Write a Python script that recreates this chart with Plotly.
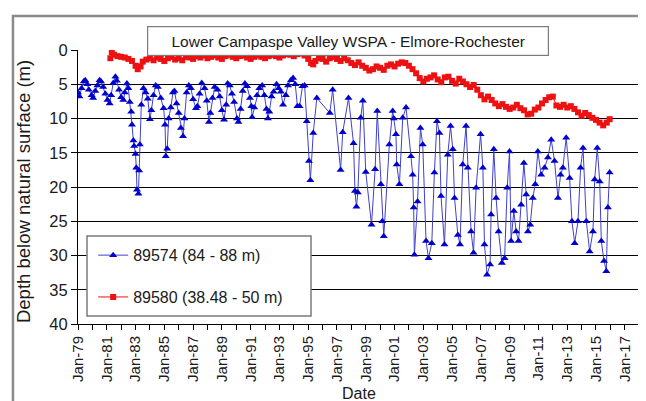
import plotly.graph_objects as go

chart_title = "Lower Campaspe Valley WSPA - Elmore-Rochester"
x_title = "Date"
y_title = "Depth below natural surface (m)"
blue_name = "89574 (84 - 88 m)"
red_name = "89580 (38.48 - 50 m)"

# bore 89574, decimal year / depth below surface (m)
blue_year = [
    1979.0, 1979.1, 1979.25, 1979.4, 1979.5, 1979.65, 1979.75, 1979.95,
    1980.05, 1980.2, 1980.35, 1980.5, 1980.6, 1980.75, 1980.9,
    1981.05, 1981.2, 1981.3, 1981.45, 1981.6, 1981.7, 1981.85,
    1982.0, 1982.15, 1982.25, 1982.4, 1982.5, 1982.6, 1982.7, 1982.75, 1982.85, 1982.9,
    1983.0, 1983.05, 1983.1, 1983.2, 1983.25, 1983.3, 1983.4, 1983.55, 1983.7, 1983.85,
    1984.0, 1984.1, 1984.25, 1984.4, 1984.55, 1984.75, 1984.95,
    1985.05, 1985.1, 1985.2, 1985.3, 1985.45, 1985.6, 1985.7, 1985.85,
    1986.0, 1986.15, 1986.3, 1986.4, 1986.55, 1986.7, 1986.85,
    1987.0, 1987.2, 1987.3, 1987.45, 1987.6, 1987.8, 1987.95,
    1988.1, 1988.2, 1988.35, 1988.5, 1988.7, 1988.85,
    1989.0, 1989.15, 1989.3, 1989.4, 1989.55, 1989.7, 1989.85,
    1990.05, 1990.15, 1990.3, 1990.45, 1990.6, 1990.75, 1990.95,
    1991.05, 1991.1, 1991.25, 1991.45, 1991.6, 1991.8, 1991.95,
    1992.1, 1992.2, 1992.3, 1992.45, 1992.6, 1992.8, 1992.95,
    1993.1, 1993.25, 1993.45, 1993.6, 1993.8, 1993.95,
    1994.1, 1994.25, 1994.4, 1994.6, 1994.75, 1994.9,
    1995.05, 1995.15, 1995.35, 1995.6, 1996.5, 1996.7,
    1997.25, 1997.4, 1997.8, 1998.15, 1998.25, 1998.35, 1998.45, 1998.65, 1998.8,
    1999.0, 1999.4, 1999.65, 1999.8, 2000.05, 2000.15, 2000.25, 2000.64, 2000.87, 2000.95,
    2001.1, 2001.15, 2001.34, 2001.57, 2001.8, 2002.14, 2002.26, 2002.33, 2002.38, 2002.6,
    2002.8, 2002.96, 2003.19, 2003.36, 2003.59, 2003.77, 2003.95, 2004.12, 2004.23, 2004.47,
    2004.7, 2004.89, 2005.05, 2005.17, 2005.4, 2005.55, 2005.74, 2005.97, 2006.09, 2006.32,
    2006.49, 2006.67, 2006.98, 2007.14, 2007.25, 2007.43, 2007.64, 2007.71, 2007.9, 2008.06,
    2008.23, 2008.46, 2008.65, 2008.83, 2008.99, 2009.1, 2009.29, 2009.45, 2009.62, 2009.8,
    2009.99, 2010.15, 2010.27, 2010.43, 2010.61, 2010.78, 2010.96, 2011.19, 2011.43, 2011.66,
    2011.89, 2012.12, 2012.36, 2012.54, 2012.7, 2012.93, 2013.17, 2013.33, 2013.52, 2013.75,
    2013.93, 2014.1, 2014.33, 2014.56, 2014.79, 2014.91, 2015.09, 2015.26, 2015.37, 2015.56,
    2015.72, 2015.83, 2015.95,
]
blue_depth = [
    6.2, 6.8, 5.6, 4.6, 4.4, 5.0, 5.8, 6.6,
    7.0, 6.0, 5.2, 4.4, 4.6, 5.4, 6.4,
    7.3, 7.8, 6.6, 4.8, 3.9, 4.5, 5.8,
    6.9, 7.3, 6.2, 4.9, 5.6, 7.6, 9.0, 10.9, 13.2, 14.0,
    15.2, 17.2, 20.4, 21.0, 17.6, 13.8, 8.0, 5.6, 6.2, 7.1,
    10.1, 8.8, 6.6, 5.2, 5.4, 7.0, 8.5,
    10.9, 15.5, 14.4, 10.0, 8.4, 6.2, 6.0, 7.8,
    9.2, 11.4, 12.6, 10.0, 6.2, 5.2, 5.6,
    7.2, 8.5, 8.2, 6.4, 4.8, 5.6, 7.4,
    10.5, 9.2, 7.0, 5.4, 5.8, 6.8,
    8.8, 10.2, 8.0, 4.9, 5.2, 6.4, 7.6,
    10.0, 10.5, 8.6, 6.0, 4.9, 5.3, 7.0,
    8.2, 9.8, 8.4, 6.6, 5.6, 5.2, 6.6,
    8.6, 10.0, 9.0, 6.8, 6.1, 5.0, 5.6,
    6.1, 8.0, 6.6, 5.2, 4.4, 4.1,
    5.0, 8.2, 8.2, 5.3, 5.2, 10.4,
    16.2, 19.0, 12.1, 7.0, 9.2, 5.8,
    17.5, 12.0, 7.0, 13.6, 20.6, 22.9, 20.8, 9.9, 7.4,
    17.8, 25.5, 17.4, 8.9, 19.6, 25.0, 27.2, 13.8, 8.9, 10.0,
    12.3, 16.7, 19.6, 9.9, 8.4, 15.5, 18.2, 23.0, 29.9, 22.1,
    11.4, 13.8, 27.9, 30.4, 28.2, 17.9, 10.4, 12.1, 21.3, 28.4,
    15.3, 11.1, 14.5, 21.6, 27.0, 28.4, 16.7, 11.1, 17.2, 26.5,
    29.6, 20.1, 12.3, 17.2, 28.4, 32.8, 31.3, 24.0, 14.5, 21.6,
    26.5, 31.1, 30.4, 20.1, 14.8, 27.9, 23.5, 26.5, 27.9, 22.6,
    16.5, 21.1, 26.5, 25.5, 21.6, 19.6, 14.8, 18.2, 17.2, 15.7,
    13.1, 16.2, 21.6, 18.2, 17.2, 12.8, 18.7, 25.0, 28.2, 25.0,
    17.2, 14.3, 25.0, 29.4, 26.5, 18.9, 14.3, 19.2, 27.9, 30.8,
    32.3, 23.0, 17.9,
]

# bore 89580
red_year = [
    1981.25, 1981.35, 1981.5, 1981.75, 1982.0, 1982.25, 1982.5, 1982.75,
    1983.0, 1983.15, 1983.35, 1983.5, 1983.75,
    1984.0, 1984.25, 1984.5, 1984.75, 1985.0, 1985.25, 1985.5, 1985.75,
    1986.0, 1986.25, 1986.5, 1986.75, 1987.0, 1987.25, 1987.5, 1987.75,
    1988.0, 1988.25, 1988.5, 1988.75, 1989.0, 1989.25, 1989.5, 1989.75,
    1990.0, 1990.25, 1990.5, 1990.75, 1991.0, 1991.25, 1991.5, 1991.75,
    1992.0, 1992.25, 1992.5, 1992.75, 1993.0, 1993.25, 1993.5, 1993.75,
    1994.0, 1994.25, 1994.5, 1994.75, 1995.0, 1995.2, 1995.35, 1995.5, 1995.75,
    1996.0, 1996.25, 1996.5, 1996.75, 1997.0, 1997.25, 1997.5, 1997.75,
    1998.0, 1998.25, 1998.5, 1998.75, 1999.0, 1999.25, 1999.5, 1999.75,
    2000.0, 2000.25, 2000.5, 2000.75, 2001.0, 2001.25, 2001.5, 2001.75,
    2002.0, 2002.25, 2002.5, 2002.75, 2003.0, 2003.25, 2003.5, 2003.75,
    2004.0, 2004.25, 2004.5, 2004.75, 2005.0, 2005.25, 2005.5, 2005.75,
    2006.0, 2006.25, 2006.5, 2006.75, 2007.0, 2007.25, 2007.5, 2007.75,
    2008.0, 2008.25, 2008.5, 2008.75, 2009.0, 2009.25, 2009.5, 2009.75,
    2010.0, 2010.25, 2010.5, 2010.75, 2011.0, 2011.25, 2011.5, 2011.75,
    2012.0, 2012.25, 2012.5, 2012.75, 2013.0, 2013.25, 2013.5, 2013.75,
    2014.0, 2014.25, 2014.5, 2014.75, 2015.0, 2015.25, 2015.5, 2015.75, 2015.95,
]
red_depth = [
    1.2, 0.3, 0.7, 0.9, 1.0, 1.1, 1.3, 1.6,
    2.3, 2.8, 2.4, 1.7, 1.4,
    1.2, 1.5, 1.1, 1.3, 1.6, 1.2, 1.0, 1.4,
    1.2, 1.5, 1.0, 1.1, 1.3, 0.9, 1.1, 0.8,
    1.2, 1.0, 0.8, 1.1, 1.3, 0.9, 0.7, 1.0,
    1.2, 0.9, 0.8, 1.1, 1.3, 1.0, 0.8, 1.0,
    1.2, 0.9, 0.7, 0.9, 1.1, 0.8, 0.6, 0.7,
    0.9, 0.6, 0.5, 0.8, 1.3, 1.9, 2.1, 1.6, 1.2,
    1.3, 1.7, 1.2, 1.0, 1.3, 1.6, 1.2, 1.5,
    1.9, 2.2, 1.8, 2.3, 2.6, 3.0, 2.8, 2.4,
    2.6, 2.9, 2.3, 2.1, 2.4, 2.0, 1.8, 1.9,
    2.3, 2.8, 3.4, 4.1, 4.6, 4.2, 4.0, 3.7,
    4.3, 4.7, 4.0, 3.9, 4.5, 4.9, 4.2, 4.6,
    5.0, 5.4, 5.1, 5.8, 6.6, 7.2, 6.8, 7.3,
    7.8, 8.2, 7.9, 8.3, 8.6, 8.4, 8.0, 8.5,
    8.8, 9.4, 9.3, 8.7, 8.4, 7.8, 7.3, 6.9,
    6.8, 8.1, 8.3, 8.0, 8.4, 8.2, 8.6, 9.1,
    9.6, 9.2, 9.5, 9.9, 10.2, 10.6, 11.0, 10.6, 10.1,
]

tick_years = list(range(1979, 2019))
tick_labels = ["Jan-%02d" % (y % 100) if (y - 1979) % 2 == 0 else "" for y in tick_years]

font = "Liberation Sans, Arial, sans-serif"

fig = go.Figure()

fig.add_trace(
    go.Scatter(
        x=blue_year,
        y=blue_depth,
        mode="lines+markers",
        name=blue_name,
        legendgroup="a",
        line=dict(color="#4040cc", width=1),
        marker=dict(symbol="triangle-up", size=7, color="#0000cc"),
    )
)
fig.add_trace(
    go.Scatter(
        x=red_year,
        y=red_depth,
        mode="lines+markers",
        name=red_name,
        legendgroup="b",
        line=dict(color="#ee1111", width=1),
        marker=dict(symbol="square", size=6, color="#ee1111"),
    )
)

# plot area is 70..632 px across, 42..316 px down
fig.update_layout(
    width=646,
    height=401,
    margin=dict(l=70, r=14, t=42, b=85),
    paper_bgcolor="white",
    plot_bgcolor="white",
    font=dict(family=font, size=16, color="#1a1a1a"),
    showlegend=True,
    legend=dict(
        x=0.027,
        y=0.313,
        xanchor="left",
        yanchor="top",
        bgcolor="rgba(0,0,0,0)",
        font=dict(size=16),
        tracegroupgap=18,
        itemwidth=30,
    ),
    shapes=[
        # legend frame
        dict(type="rect", xref="paper", yref="paper", x0=0.016, x1=0.4146, y0=0.029, y1=0.321,
             line=dict(color="#7a7a7a", width=1.5), fillcolor="white", layer="above"),
        # right edge of plot area
        dict(type="line", xref="paper", yref="paper", x0=1, x1=1, y0=0, y1=1,
             line=dict(color="#909090", width=1)),
        # chart border
        dict(type="rect", xref="paper", yref="paper", x0=-0.1157, x1=1.016, y0=-0.4, y1=1.124,
             line=dict(color="#8a8a8a", width=2.5)),
    ],
    annotations=[
        dict(text=chart_title, xref="paper", yref="paper", x=0.48, y=1.033,
             xanchor="center", yanchor="middle", showarrow=False, width=398, height=26,
             bordercolor="#7a7a7a", borderwidth=1.2, bgcolor="white", font=dict(size=15.5)),
        dict(text=x_title, xref="paper", yref="paper", x=0.5, y=-0.252,
             xanchor="center", yanchor="middle", showarrow=False, font=dict(size=16)),
        dict(text=y_title, xref="paper", yref="paper", x=-0.098, y=0.485, textangle=-90,
             xanchor="center", yanchor="middle", showarrow=False, font=dict(size=18.5)),
    ],
)

fig.update_xaxes(
    range=[1979, 2018.06],
    tickmode="array",
    tickvals=tick_years,
    ticktext=tick_labels,
    tickangle=-90,
    tickfont=dict(size=15),
    ticks="outside",
    ticklen=5,
    tickcolor="black",
    showline=True,
    linecolor="black",
    linewidth=1,
    showgrid=False,
    zeroline=False,
    automargin=False,
)
fig.update_yaxes(
    range=[40, 0],
    tick0=0,
    dtick=5,
    tickfont=dict(size=16.5),
    ticks="outside",
    ticklen=6,
    tickcolor="black",
    showline=True,
    linecolor="black",
    linewidth=1,
    showgrid=True,
    gridcolor="black",
    gridwidth=1,
    zeroline=False,
    automargin=False,
)

fig.write_html("out.html")
